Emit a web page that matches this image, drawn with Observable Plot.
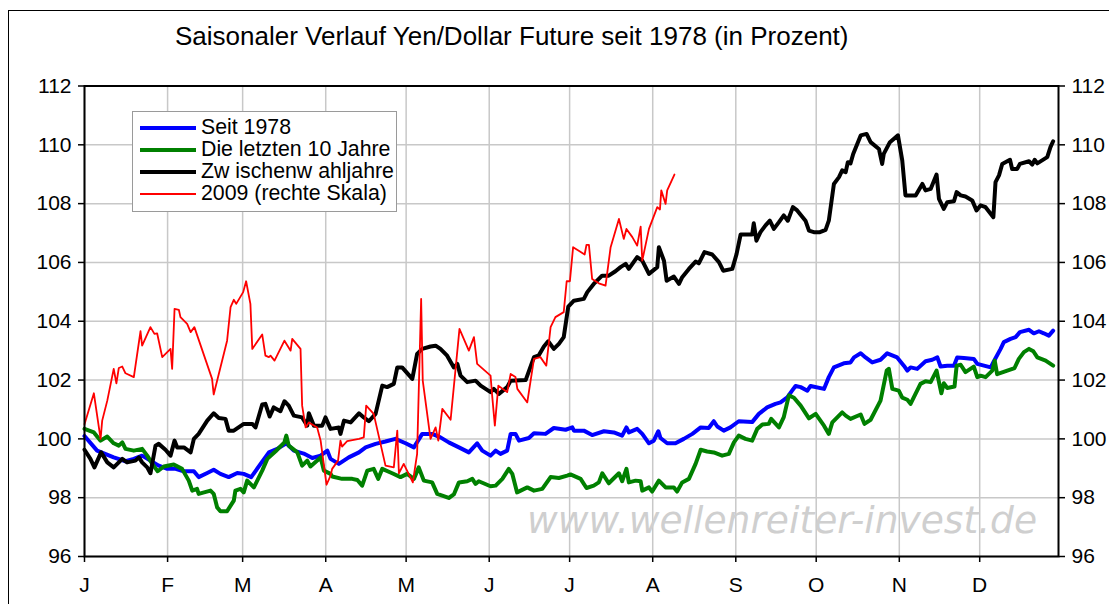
<!DOCTYPE html>
<html>
<head>
<meta charset="utf-8">
<script src="https://cdn.jsdelivr.net/npm/d3@7"></script>
<script src="https://cdn.jsdelivr.net/npm/@observablehq/plot@0.6"></script>
<style>
  body { margin: 0; background: white; }
  #wrap { position: relative; width: 1109px; height: 604px; overflow: hidden; font-family: "Liberation Sans", Arial, sans-serif; background: white; }
  #title { position: relative; height: 60px; }
  #title span { position: absolute; left: 175px; top: 23px; font-size: 26px; line-height: 26px; white-space: nowrap; }
  #border { position: absolute; left: 8px; top: 10px; width: 1300px; height: 800px; border: 1.5px solid #000; pointer-events: none; }
  #legend { position: absolute; left: 132px; top: 111px; width: 265px; height: 101px; border: 1px solid #9a9a9a; background: white; box-sizing: border-box; }
  .lg-line { position: absolute; left: 7px; width: 56px; }
  .lg-text { position: absolute; left: 68px; font-size: 21.3px; line-height: 21px; height: 21px; white-space: pre; }
  #wm { position: absolute; left: 527px; top: 502px; font-family: "DejaVu Sans", sans-serif; font-style: oblique; font-size: 37.6px; line-height: 37px; color: #cfcfcf; white-space: nowrap; }
</style>
</head>
<body>
<div id="wrap">
  <div id="title"><span></span></div>
  <div id="chart"></div>
  <div id="wm"></div>
  <div id="legend"></div>
  <div id="border"></div>
</div>
<script>
const titleText = "Saisonaler Verlauf Yen/Dollar Future seit 1978 (in Prozent)";
const watermark = "www.wellenreiter-invest.de";

const monthDays = [0, 31, 59, 90, 120, 151, 181, 212, 243, 273, 304, 334];
const monthLabels = ["J", "F", "M", "A", "M", "J", "J", "A", "S", "O", "N", "D"];
const yTicks = [96, 98, 100, 102, 104, 106, 108, 110, 112];

const seriesNames = ["Seit 1978", "Die letzten 10 Jahre", "Zw ischenw ahljahre", "2009 (rechte Skala)"];
const seriesColors = ["#0000ff", "#008000", "#000000", "#ff0000"];
const seriesWidths = [4, 4, 4, 1.8];

// [day of year, value]
const seit1978 = [[0,100.1],[4.7,99.6],[10.9,99.37],[15.3,99.24],[18.4,99.32],[21.5,99.43],[24.6,99.26],[27.7,99.09],[30.9,98.98],[34.0,98.98],[37.0,98.9],[40.8,98.9],[42.6,98.7],[45.8,98.84],[48.2,98.95],[50.7,98.81],[53.8,98.7],[57.0,98.84],[59.4,98.81],[62.2,98.7],[65.7,99.15],[68.8,99.54],[71.9,99.66],[75.3,99.85],[78.1,99.6],[81.8,99.5],[85.0,99.35],[88.1,99.43],[90.6,99.6],[91.8,99.32],[94.9,99.15],[98.6,99.37],[102.4,99.54],[104.9,99.71],[108.6,99.83],[112.3,99.91],[116.0,100.0],[119.8,99.85],[122.9,99.71],[126.0,100.17],[129.7,100.17],[132.8,100.05],[135.9,99.88],[139.7,99.71],[143.4,99.54],[146.5,99.85],[148.4,99.6],[151.5,99.43],[153.4,99.6],[155.2,99.49],[157.7,99.6],[159.0,100.17],[160.8,100.17],[162.1,99.94],[165.8,100.03],[167.7,100.19],[172.0,100.17],[175.1,100.37],[179.5,100.31],[182.0,100.39],[182.6,100.28],[186.3,100.28],[189.4,100.13],[193.8,100.26],[197.5,100.22],[200.6,100.11],[202.2,100.39],[203.1,100.22],[206.2,100.34],[208.1,100.17],[210.6,99.85],[212.4,99.94],[214.1,100.26],[214.9,100.03],[217.4,99.85],[220.5,99.85],[223.6,100.0],[226.8,100.17],[229.9,100.39],[232.9,100.37],[234.8,100.6],[236.1,100.42],[238.5,100.28],[241.0,100.39],[244.1,100.6],[249.1,100.57],[251.6,100.85],[254.7,101.07],[257.8,101.19],[259.7,101.24],[262.2,101.41],[264.0,101.64],[265.3,101.8],[267.2,101.76],[269.7,101.64],[270.9,101.8],[275.9,101.7],[277.7,102.1],[279.6,102.43],[283.3,102.57],[285.8,102.6],[287.1,102.77],[289.6,102.91],[291.4,102.77],[293.9,102.6],[297.0,102.69],[299.5,102.91],[303.2,102.77],[305.7,102.49],[307.0,102.32],[308.2,102.43],[310.7,102.38],[313.8,102.64],[316.3,102.69],[318.2,102.77],[319.4,102.46],[321.9,102.49],[324.4,102.49],[325.6,102.77],[328.1,102.75],[331.8,102.72],[333.1,102.55],[335.6,102.49],[338.1,102.43],[339.3,102.64],[341.8,103.06],[343.0,103.29],[345.5,103.4],[347.4,103.46],[349.0,103.63],[352.4,103.71],[354.2,103.59],[356.1,103.66],[357.9,103.59],[359.8,103.51],[361.4,103.68]];

const letzte10 = [[0,100.34],[3.5,100.22],[6.0,99.94],[8.5,100.08],[10.9,99.85],[12.8,99.77],[14.1,99.88],[15.3,99.66],[18.4,99.6],[21.5,99.66],[23.4,99.43],[25.3,99.15],[27.3,98.9],[29.6,99.06],[33.3,99.13],[36.4,98.98],[38.9,98.58],[40.2,98.24],[42.0,98.3],[42.6,98.13],[47.0,98.24],[48.2,98.13],[49.5,97.67],[50.7,97.54],[53.2,97.54],[55.7,97.9],[56.3,98.24],[58.2,98.3],[59.4,98.18],[60.7,98.58],[63.2,98.35],[66.3,98.92],[68.2,99.32],[71.3,99.58],[74.6,99.88],[75.3,100.11],[76.2,99.77],[79.4,99.54],[81.2,99.09],[83.1,99.26],[84.3,99.06],[88.1,99.37],[89.3,98.92],[91.8,98.81],[92.4,98.72],[96.1,98.64],[99.9,98.64],[101.8,98.6],[103.6,98.41],[105.5,98.92],[107.9,98.98],[109.6,98.64],[111.1,98.98],[114.8,98.83],[117.9,98.7],[120.4,98.81],[122.9,98.64],[124.7,99.03],[126.6,98.58],[129.7,98.52],[131.6,98.13],[135.9,97.99],[137.8,98.11],[139.7,98.52],[142.8,98.56],[144.7,98.64],[145.9,98.47],[147.1,98.56],[151.5,98.39],[153.4,98.41],[155.9,98.64],[158.3,98.98],[159.6,98.81],[161.4,98.18],[165.2,98.35],[167.7,98.24],[170.8,98.3],[173.9,98.7],[177.0,98.67],[180.1,98.75],[181.3,98.79],[185.1,98.64],[187.3,98.33],[190.0,98.41],[191.9,98.52],[193.2,98.83],[195.6,98.49],[199.4,98.83],[200.6,98.56],[202.2,98.98],[203.1,98.52],[205.6,98.58],[207.5,98.56],[208.1,98.24],[210.6,98.35],[211.8,98.21],[214.3,98.58],[216.8,98.35],[219.9,98.35],[221.1,98.21],[223.0,98.52],[225.5,98.64],[228.0,99.15],[229.9,99.63],[232.3,99.57],[234.8,99.54],[237.9,99.43],[240.4,99.49],[242.3,99.88],[244.1,100.11],[246.6,100.0],[249.1,99.94],[251.0,100.34],[252.9,100.49],[255.3,100.51],[256.2,100.68],[259.1,100.39],[260.9,100.74],[262.8,101.48],[264.7,101.4],[267.2,101.13],[270.3,100.7],[272.8,100.85],[275.9,100.45],[277.7,100.17],[279.0,100.56],[282.7,100.9],[284.0,100.79],[285.8,100.68],[289.6,100.83],[291.0,100.51],[293.3,100.65],[297.0,101.3],[299.3,102.32],[300.1,102.38],[301.4,101.7],[303.8,101.64],[305.1,101.4],[307.0,101.33],[308.2,101.19],[311.9,101.87],[313.8,101.96],[315.7,101.93],[317.9,102.32],[319.7,101.55],[320.6,101.89],[321.9,101.73],[324.6,101.78],[325.4,102.49],[326.9,102.52],[328.7,102.27],[331.8,102.46],[333.1,102.1],[334.3,102.15],[336.2,102.1],[338.7,102.32],[339.6,102.66],[340.5,102.2],[344.3,102.32],[347.0,102.41],[348.6,102.72],[350.5,102.95],[352.4,103.06],[354.0,102.98],[355.5,102.77],[358.6,102.66],[361.4,102.49]];

const zwischenwahl = [[0,99.63],[2.2,99.32],[3.7,99.03],[6.2,99.54],[8.5,99.2],[10.9,99.03],[14.1,99.32],[15.9,99.2],[19.0,99.26],[20.3,99.37],[21.5,99.2],[23.4,99.03],[24.6,98.83],[26.5,99.77],[27.7,99.83],[30.2,99.63],[32.1,99.43],[33.6,99.94],[34.6,99.71],[37.1,99.71],[39.6,99.54],[40.8,100.0],[42.6,100.17],[45.8,100.62],[48.2,100.87],[50.1,100.71],[52.6,100.68],[53.8,100.28],[55.7,100.28],[59.4,100.51],[62.6,100.51],[63.8,100.39],[66.3,101.17],[67.5,101.19],[69.1,100.76],[70.6,101.07],[73.1,100.94],[74.6,101.28],[76.2,101.13],[78.1,100.79],[81.2,100.73],[83.1,100.45],[83.7,100.87],[85.6,100.45],[88.7,100.45],[89.9,100.73],[91.8,100.34],[94.9,100.39],[95.5,100.17],[96.8,100.62],[99.3,100.56],[102.4,100.87],[104.2,100.73],[106.1,100.6],[108.6,100.85],[111.1,101.81],[112.9,101.76],[115.4,101.87],[116.7,102.43],[118.5,102.43],[122.3,102.04],[124.1,102.89],[126.0,103.06],[129.1,103.14],[131.0,103.17],[132.8,103.06],[135.3,102.83],[137.8,102.43],[139.1,102.55],[140.3,102.15],[142.8,101.93],[145.9,101.98],[147.8,101.81],[151.5,101.59],[152.7,101.7],[154.6,101.53],[157.7,101.76],[159.0,101.98],[164.6,102.0],[167.7,102.78],[169.5,102.84],[171.4,103.14],[173.0,103.32],[175.1,103.06],[177.0,103.23],[178.8,103.46],[180.5,104.5],[182.6,104.7],[186.3,104.76],[187.6,104.99],[190.0,105.27],[191.9,105.44],[193.1,105.55],[195.6,105.55],[198.1,105.7],[200.0,105.84],[201.9,105.95],[203.1,105.78],[206.2,106.18],[208.1,106.06],[210.6,105.61],[213.7,105.84],[214.3,106.52],[216.2,106.06],[217.2,105.38],[219.9,105.52],[221.8,105.27],[223.0,105.5],[225.5,105.78],[228.0,106.03],[229.2,105.97],[231.3,106.35],[234.2,106.27],[236.7,106.01],[238.3,105.72],[241.7,105.78],[243.3,106.29],[244.8,106.95],[249.1,106.95],[249.7,107.33],[250.7,106.74],[252.2,107.03],[254.1,107.26],[255.7,107.42],[257.2,107.14],[259.1,107.37],[260.9,107.6],[262.4,107.42],[264.3,107.88],[265.9,107.77],[269.0,107.42],[270.3,107.08],[272.1,107.03],[274.4,107.03],[276.5,107.11],[277.7,107.42],[279.6,108.67],[281.5,108.9],[282.7,109.13],[284.0,109.07],[284.8,109.41],[285.8,109.37],[286.8,109.69],[289.6,110.32],[291.8,110.37],[293.3,110.09],[296.4,109.86],[297.6,109.35],[298.2,109.69],[300.5,110.09],[303.5,110.32],[305.1,109.47],[306.3,108.28],[310.1,108.28],[312.6,108.67],[313.8,108.45],[315.7,108.5],[317.9,108.99],[318.8,108.16],[320.6,107.82],[321.9,108.05],[324.4,108.08],[325.4,108.39],[326.9,108.28],[328.7,108.24],[331.2,108.11],[332.8,107.77],[334.3,107.94],[336.2,107.88],[339.1,107.54],[339.9,108.73],[341.2,108.96],[342.4,109.35],[345.3,109.49],[346.1,109.18],[348.0,109.18],[349.0,109.35],[352.4,109.44],[353.6,109.33],[354.5,109.49],[355.5,109.37],[359.2,109.58],[360.4,109.92],[361.4,110.12]];

const jahr2009 = [[0,100.5],[3.5,101.55],[6.0,100.0],[6.6,100.62],[8.5,101.3],[10.9,102.38],[11.9,101.89],[12.8,102.41],[14.1,102.46],[15.3,102.23],[18.4,102.1],[20.9,103.66],[21.5,103.17],[24.6,103.8],[26.1,103.57],[27.1,103.59],[29.0,102.78],[32.1,103.06],[32.7,102.38],[33.6,104.42],[35.2,104.39],[35.8,104.14],[38.3,103.91],[39.6,103.63],[41.0,103.8],[47.6,102.04],[48.2,101.51],[53.2,103.34],[54.5,104.48],[55.7,104.73],[56.6,104.59],[59.2,104.99],[60.3,105.36],[61.9,104.59],[62.6,103.06],[66.3,103.55],[67.5,102.83],[68.8,102.78],[69.4,102.83],[70.9,102.66],[74.6,103.34],[76.9,103.0],[77.5,103.4],[80.6,103.06],[81.2,101.13],[82.5,100.39],[83.7,100.56],[86.8,100.39],[88.1,99.94],[90.3,98.44],[91.8,98.75],[92.4,98.98],[94.6,99.26],[95.5,99.94],[96.1,99.74],[98.0,99.92],[102.4,100.0],[104.2,100.05],[105.1,101.13],[107.9,100.85],[112.3,99.09],[115.4,99.03],[116.7,100.28],[117.3,98.83],[119.1,99.15],[122.5,98.52],[124.1,99.49],[125.6,104.76],[126.2,101.98],[129.1,100.0],[131.0,100.39],[132.0,99.94],[133.5,101.02],[136.6,100.65],[139.9,103.74],[143.4,103.0],[145.3,103.46],[146.5,102.55],[151.5,102.15],[152.1,101.47],[153.1,100.45],[154.4,101.81],[157.7,101.59],[159.0,102.21],[160.8,102.1],[161.5,101.7],[165.2,101.24],[167.7,102.72],[170.1,102.78],[172.3,102.49],[173.9,103.8],[175.7,104.14],[178.8,104.31],[179.9,105.36],[181.1,105.36],[182.3,106.52],[184.4,106.4],[186.6,106.27],[187.3,106.6],[188.2,106.6],[189.4,105.44],[191.9,105.29],[194.4,105.21],[196.3,106.52],[199.4,107.48],[201.2,106.8],[202.2,107.14],[204.4,106.86],[206.2,106.57],[207.5,107.22],[208.1,106.06],[210.6,107.14],[213.7,107.88],[214.7,107.8],[215.2,108.45],[216.8,107.99],[217.4,108.45],[220.1,108.99]];

const allSeries = [seit1978, letzte10, zwischenwahl, jahr2009];

document.querySelector("#title span").textContent = titleText;
document.getElementById("wm").textContent = watermark;

const lineMarks = allSeries.map((s, i) => Plot.line(s, {
  x: d => d[0], y: d => d[1],
  stroke: seriesColors[i], strokeWidth: seriesWidths[i],
  strokeLinejoin: "round", strokeLinecap: "round", curve: "linear"
}));

const chart = Plot.plot({
  width: 1109,
  height: 544,
  marginLeft: 84,
  marginRight: 51,
  marginTop: 25.5,
  marginBottom: 48,
  style: { fontSize: "21px", fontFamily: "'Liberation Sans', Arial, sans-serif", color: "black", background: "transparent", overflow: "visible" },
  x: { type: "linear", domain: [0, 363.4] },
  y: { domain: [96, 112] },
  marks: [
    Plot.gridX(monthDays, { stroke: "#c8c8c8", strokeOpacity: 1, strokeWidth: 1.5 }),
    Plot.gridY(yTicks, { stroke: "#c8c8c8", strokeOpacity: 1, strokeWidth: 1.5 }),
    ...lineMarks,
    Plot.frame({ stroke: "black", strokeWidth: 2 }),
    Plot.axisY(yTicks, { anchor: "left", tickSize: 6, tickPadding: 7, tickFormat: d => String(d), label: null, strokeWidth: 1.5 }),
    Plot.axisY(yTicks, { anchor: "right", tickSize: 6, tickPadding: 7, tickFormat: d => String(d), label: null, strokeWidth: 1.5 }),
    Plot.axisX(monthDays, { anchor: "bottom", tickSize: 6, tickPadding: 15, tickFormat: d => monthLabels[monthDays.indexOf(d)], label: null, strokeWidth: 1.5 })
  ]
});
document.getElementById("chart").appendChild(chart);

// Legend
const legend = document.getElementById("legend");
const rowCenters = [15.5, 37.5, 59.5, 81.5];
seriesNames.forEach((name, i) => {
  const ln = document.createElement("div");
  ln.className = "lg-line";
  const h = Math.max(2, Math.round(seriesWidths[i]));
  ln.style.top = Math.round(rowCenters[i] - h / 2) + "px";
  ln.style.height = h + "px";
  ln.style.background = seriesColors[i];
  legend.appendChild(ln);
  const tx = document.createElement("div");
  tx.className = "lg-text";
  tx.style.top = (rowCenters[i] - 10.3) + "px";
  tx.textContent = name;
  legend.appendChild(tx);
});
</script>
</body>
</html>
